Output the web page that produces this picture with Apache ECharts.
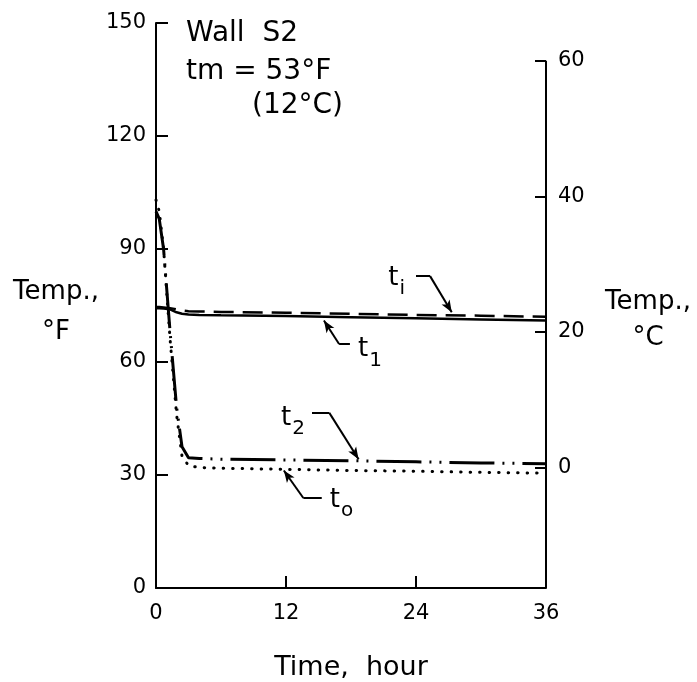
<!DOCTYPE html>
<html>
<head>
<meta charset="utf-8">
<script src="https://cdn.jsdelivr.net/npm/echarts@6/dist/echarts.min.js"></script>
<style>
  html, body { margin: 0; padding: 0; background: #fff; }
  #chart { width: 697px; height: 682px; }
</style>
</head>
<body>
<div id="chart"></div>
<script>
// Elapsed time, hours
const hours = [0, 0.3, 0.7, 1.3, 1.9, 2.4, 3, 4, 6, 12, 18, 24, 30, 36];
// Temperatures, degrees F
const tOutside = [103, 100, 90, 66, 46, 35, 32.5, 32, 31.8, 31.5, 31.2, 31, 30.7, 30.5];
const tTwo     = [100, 98, 90, 68, 48, 37.5, 34.6, 34.4, 34.2, 34, 33.8, 33.5, 33.2, 33];
const tOne     = [74.3, 74.3, 74.2, 74, 73.2, 72.8, 72.6, 72.5, 72.4, 72.2, 71.9, 71.6, 71.3, 71];
const tInside  = [74.6, 74.6, 74.5, 74.3, 74, 73.7, 73.5, 73.4, 73.3, 73.1, 72.8, 72.5, 72.3, 72];

// Axis ticks
const hourTicks = [0, 12, 24, 36];
const fTicks = [0, 30, 60, 90, 120, 150];
const cTicks = [0, 20, 40, 60];

// Curve tags: subscript, tag position [h, F], leader start, knee, arrow tip
const tagSubs  = ['i', '1', '2', 'o'];
const tagAt    = [[21.4, 81.2], [18.6, 62.2], [11.5, 44.0], [16.0, 22.3]];
const leadFrom = [[24.0, 82.8], [17.9, 64.8], [14.4, 46.5], [15.3, 23.9]];
const leadKnee = [[25.3, 82.8], [16.9, 64.8], [16.0, 46.5], [13.6, 23.9]];
const leadTip  = [[27.3, 73.2], [15.5, 71.0], [18.7, 34.2], [11.8, 31.2]];

const F_MIN = fTicks[0], F_MAX = fTicks[fTicks.length - 1];
const toC = f => (f - 32) * 5 / 9;
const C_MIN = toC(F_MIN), C_MAX = toC(F_MAX);

const FONT = 'DejaVu Sans';
const INK = '#000';

const pairs = vals => hours.map((h, i) => [h, vals[i]]);

function curve(name, vals, type, width, cap) {
  return {
    name, type: 'line', data: pairs(vals), showSymbol: false, symbol: 'none',
    lineStyle: { color: INK, width, type, cap: cap || 'butt' },
    silent: true, z: 3
  };
}

const leaders = [];
tagSubs.forEach((s, i) => {
  leaders.push([{ coord: leadFrom[i], symbol: 'none' }, { coord: leadKnee[i], symbol: 'none' }]);
  leaders.push([{ coord: leadKnee[i], symbol: 'none' }, { coord: leadTip[i], symbol: 'arrow', symbolSize: [7, 12] }]);
});

const tickLabel = extra => Object.assign({ fontFamily: FONT, fontSize: 21, color: INK }, extra || {});
// Two-line axis caption; an empty lead line nudges the block downward
const sideName = (lead, gap) => ({
  align: 'center',
  rich: {
    g: { lineHeight: lead, fontSize: 1 },
    a: { fontFamily: FONT, fontSize: 26, color: INK, lineHeight: gap, align: 'center' }
  }
});

const chart = echarts.init(document.getElementById('chart'), null, { renderer: 'canvas' });
chart.setOption({
  animation: false,
  backgroundColor: '#fff',
  textStyle: { fontFamily: FONT, color: INK },
  title: [
    { text: 'Wall  S2', left: 186, top: 20 },
    { text: 'tm = 53°F', left: 186, top: 58 },
    { text: '(12°C)', left: 252, top: 92 }
  ].map(t => Object.assign(t, {
    padding: 0,
    textStyle: { fontFamily: FONT, fontSize: 28, fontWeight: 'normal', color: INK }
  })),
  grid: { left: 156, right: 151, top: 23, bottom: 94, containLabel: false, outerBoundsMode: 'none' },
  xAxis: {
    type: 'value', min: hourTicks[0], max: hourTicks[hourTicks.length - 1], interval: 12,
    name: 'Time,  hour', nameLocation: 'middle', nameGap: 66,
    nameTextStyle: { fontFamily: FONT, fontSize: 27, color: INK },
    axisLine: { show: true, lineStyle: { color: INK, width: 2 } },
    axisTick: { show: true, inside: true, length: 12, lineStyle: { color: INK, width: 2 } },
    axisLabel: tickLabel({ margin: 15 }),
    splitLine: { show: false }
  },
  yAxis: [
    {
      type: 'value', position: 'left', min: F_MIN, max: F_MAX, interval: 30,
      name: '{g|}\n{a|Temp.,}\n{a|°F}', nameLocation: 'middle', nameRotate: 0, nameGap: 100,
      nameTextStyle: sideName(14, 40),
      axisLine: { show: true, lineStyle: { color: INK, width: 2 } },
      axisTick: { show: true, inside: true, length: 12, lineStyle: { color: INK, width: 2 } },
      axisLabel: tickLabel({ margin: 10 }),
      splitLine: { show: false }
    },
    {
      type: 'value', position: 'right', min: C_MIN, max: C_MAX,
      name: '{g|}\n{a|Temp.,}\n{a|°C}', nameLocation: 'middle', nameRotate: 0, nameGap: 102,
      nameTextStyle: sideName(30, 36),
      axisLine: { show: false },
      axisTick: { show: true, inside: true, length: 11, customValues: cTicks, lineStyle: { color: INK, width: 2 } },
      axisLabel: tickLabel({ margin: 12, customValues: cTicks }),
      splitLine: { show: false }
    }
  ],
  series: [
    curve('ti', tInside, [20, 9], 2.5),
    curve('t1', tOne, 'solid', 2.5),
    curve('t2', tTwo, [45, 8, 2, 8, 2, 8], 3),
    curve('to', tOutside, [0.5, 9], 3, 'round'),
    {
      // Celsius scale spine, from its top tick down to the time axis
      name: 'celsiusSpine', type: 'line', yAxisIndex: 1, silent: true,
      data: [[hourTicks[hourTicks.length - 1], cTicks[cTicks.length - 1]], [hourTicks[hourTicks.length - 1], C_MIN]],
      showSymbol: false, symbol: 'none',
      lineStyle: { color: INK, width: 2 }, z: 4
    },
    {
      name: 'tags', type: 'scatter', silent: true, symbolSize: 1,
      itemStyle: { color: INK, opacity: 0 },
      data: tagSubs.map((s, i) => ({ value: tagAt[i], sub: s })),
      label: {
        show: true, position: 'right', distance: 0, color: INK, opacity: 1,
        textBorderWidth: 0,
        formatter: p => '{b|t}{s|' + p.data.sub + '}',
        rich: {
          b: { fontFamily: FONT, fontSize: 26, color: INK, verticalAlign: 'top', lineHeight: 30 },
          s: { fontFamily: FONT, fontSize: 20, color: INK, verticalAlign: 'bottom', lineHeight: 34, padding: [0, 0, 0, 1] }
        }
      },
      markLine: {
        silent: true, animation: false,
        label: { show: false },
        lineStyle: { color: INK, width: 2, type: 'solid' },
        emphasis: { disabled: true },
        data: leaders
      }
    }
  ]
});
</script>
</body>
</html>
